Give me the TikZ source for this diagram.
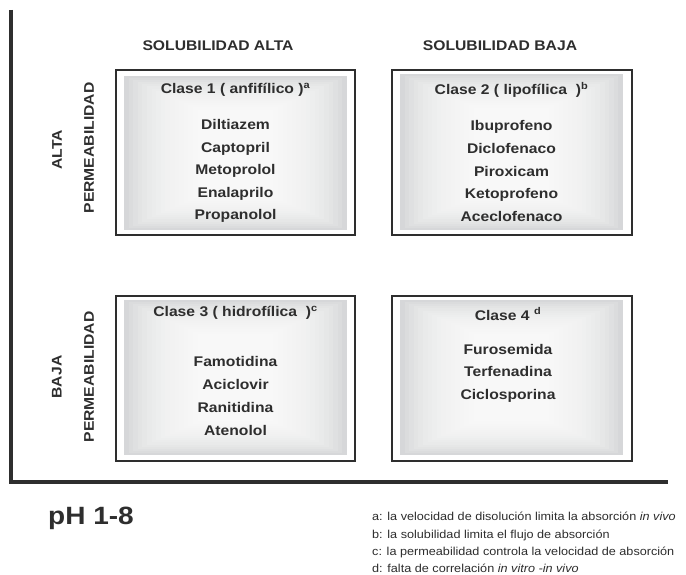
\documentclass[tikz,border=0pt]{standalone}
\usepackage{fontspec}
\setmainfont{Liberation Sans}[FakeStretch=1.12]
\newfontfamily\notefont{Liberation Sans}[FakeStretch=1.1]
\usetikzlibrary{calc}

\definecolor{ink}{HTML}{2E2E2E}
\definecolor{cellgray}{HTML}{D6D7D9}

\tikzset{
  axisline/.style={draw=ink, line width=3.4pt},
  cellframe/.style={draw=ink, line width=1.1pt},
  headtext/.style={font=\bfseries\fontsize{14}{16}\selectfont, text=ink, inner sep=0pt},
  sidetext/.style={headtext, rotate=90},
  classtext/.style={font=\bfseries\fontsize{14}{16}\selectfont, text=ink, inner sep=0pt},
  drugtext/.style={font=\bfseries\fontsize{14}{22.6}\selectfont, text=ink, align=center, inner sep=0pt},
  notetext/.style={font=\notefont\fontsize{11.5}{14}\selectfont, text=ink, inner sep=0pt, anchor=base west},
}

% frame (outer box) and shaded interior, shaded from grey edges to a white core
\newcommand\bcscell[8]{%
  \draw[cellframe] (#1,#2) rectangle (#3,#4);
  \fill[cellgray] (#5,#6) rectangle (#7,#8);
  \foreach \k in {1,...,16}{
    \fill[white, fill opacity=0.13]
      ($(#5,#6)+(\k*4.6,\k*2.1)$) rectangle ($(#7,#8)-(\k*4.6,\k*2.1)$);
  }%
}

\begin{document}
\begin{tikzpicture}[x=1pt, y=-1pt]
\useasboundingbox[fill=white] (0,0) rectangle (686,575);

% axes
\coordinate (top) at (11,10);
\coordinate (origin) at (11,482);
\coordinate (right) at (668,482);
\draw[axisline] (top) -- (origin) -- (right);

% the four classes
\bcscell{116}{70}{355}{235}{124}{76}{347}{230}
\bcscell{392}{70}{632}{235}{400}{74}{623}{230}
\bcscell{116}{296}{355}{461}{124}{300}{347}{455}
\bcscell{392}{296}{632}{461}{400}{300}{623}{455}

% column headings
\node[headtext] (solalta) at (218,46) {SOLUBILIDAD ALTA};
\node[headtext] (solbaja) at (500,46) {SOLUBILIDAD BAJA};

% row headings
\node[sidetext] (altaA) at (57,150) {ALTA};
\node[sidetext] (altaP) at (89,148) {PERMEABILIDAD};
\node[sidetext] (bajaA) at (57,377) {BAJA};
\node[sidetext] (bajaP) at (89,377) {PERMEABILIDAD};

% class 1
\node[classtext] (c1) at (235.5,90) {Clase 1 ( anfifílico )\textsuperscript{a}};
\node[drugtext] (d1) at (235.5,171) {Diltiazem\\Captopril\\Metoprolol\\Enalaprilo\\Propanolol};

% class 2
\node[classtext] (c2) at (511.5,90) {Clase 2 ( lipofílica \ )\textsuperscript{b}};
\node[drugtext] (d2) at (511.5,171) {Ibuprofeno\\Diclofenaco\\Piroxicam\\Ketoprofeno\\Aceclofenaco};

% class 3
\node[classtext] (c3) at (235.5,313) {Clase 3 ( hidrofílica \ )\textsuperscript{c}};
\node[drugtext, font=\bfseries\fontsize{14}{23}\selectfont] (d3) at (235.5,396) {Famotidina\\Aciclovir\\Ranitidina\\Atenolol};

% class 4
\node[classtext] (c4) at (508,314) {Clase 4 \textsuperscript{d}};
\node[drugtext] (d4) at (508,373) {Furosemida\\Terfenadina\\Ciclosporina};

% pH range
\node[font=\bfseries\fontsize{25}{27}\selectfont, text=ink, inner sep=0pt, anchor=west] (ph) at (48,518) {pH 1-8};

% footnotes
\node[notetext] (notea) at (372,520) {a: la velocidad de disolución limita la absorción \textit{in vivo}};
\node[notetext] (noteb) at (372,538) {b: la solubilidad limita el flujo de absorción};
\node[notetext] (notec) at (372,555.5) {c: la permeabilidad controla la velocidad de absorción};
\node[notetext] (noted) at (372,572.5) {d: falta de correlación \textit{in vitro -in vivo}};
\end{tikzpicture}
\end{document}
